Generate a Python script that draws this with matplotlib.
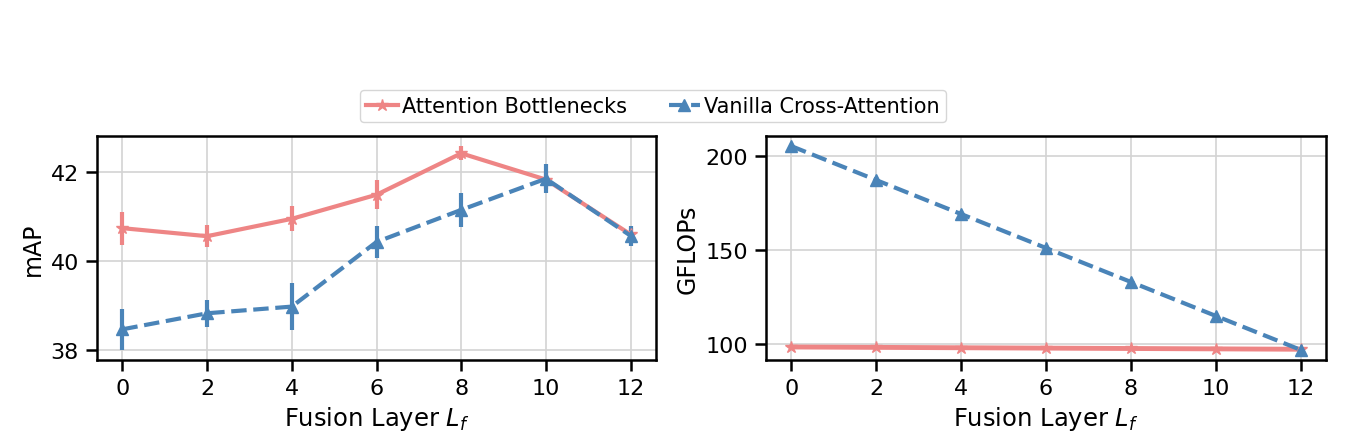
import numpy as np
import matplotlib
matplotlib.use("Agg")
import matplotlib.pyplot as plt
from matplotlib.lines import Line2D

# data
layers = [0, 2, 4, 6, 8, 10, 12]
bottleneck_map = [40.74, 40.56, 40.95, 41.49, 42.42, 41.83, 40.60]
bottleneck_err = [0.37, 0.25, 0.28, 0.32, 0.16, 0.20, 0.15]
cross_map = [38.47, 38.83, 38.98, 40.43, 41.15, 41.85, 40.57]
cross_err = [0.46, 0.30, 0.53, 0.36, 0.38, 0.33, 0.22]
bottleneck_gflops = [98.5, 98.3, 98.1, 97.9, 97.7, 97.5, 97.3]
cross_gflops = [205, 187, 169, 151, 133, 115, 97]

red = "#EE8585"
blue = "#4A84B8"

plt.rcParams['font.family'] = ['DejaVu Sans']

fig = plt.figure(figsize=(13.69, 4.35), dpi=100)
ax1 = fig.add_axes([97 / 1369, 1 - 361 / 435, 559 / 1369, 224 / 435])
ax2 = fig.add_axes([766 / 1369, 1 - 361 / 435, 560 / 1369, 224 / 435])

# mAP panel
ax1.errorbar(layers, bottleneck_map, yerr=bottleneck_err, color=red, marker="*",
             markersize=9, linewidth=3, elinewidth=3, zorder=3)
ax1.errorbar(layers, cross_map, yerr=cross_err, color=blue, marker="^", linestyle="--",
             markersize=9, linewidth=3, elinewidth=3, zorder=3)
ax1.set_yticks([38, 40, 42])
ax1.set_ylabel("mAP", fontsize=17)

# GFLOPs panel
ax2.plot(layers, bottleneck_gflops, color=red, marker="*", markersize=9, linewidth=3.5, zorder=3)
ax2.plot(layers, cross_gflops, color=blue, marker="^", linestyle="--", markersize=9,
         linewidth=3, zorder=3)
ax2.set_yticks([100, 150, 200])
ax2.set_ylabel("GFLOPs", fontsize=17)

for ax in (ax1, ax2):
    ax.set_xticks(layers)
    ax.set_xlabel("Fusion Layer $L_f$", fontsize=17.5)
    ax.grid(True, color="#d3d3d3", linewidth=1.2)
    ax.set_axisbelow(True)
    ax.tick_params(direction="out", length=8, width=1.8, pad=5, labelsize=16)
    for s in ax.spines.values():
        s.set_linewidth(1.8)

handles = [Line2D([], [], color=red, marker="*", markersize=9, linewidth=3),
           Line2D([], [], color=blue, marker="^", linestyle="--", markersize=9, linewidth=3)]
labels = ["Attention Bottlenecks", "Vanilla Cross-Attention"]
fig.legend(handles, labels, loc="center", ncol=2,
           bbox_to_anchor=(653 / 1369, 1 - 107 / 435), fontsize=15,
           handlelength=1.5, handletextpad=0.2, columnspacing=2.0,
           borderpad=0.3, frameon=True)

fig.savefig("out.png", dpi=100)
